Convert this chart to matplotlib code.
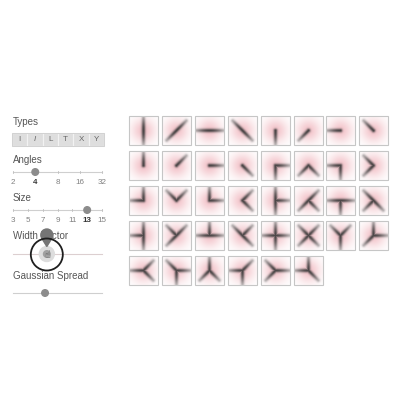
import numpy as np
import matplotlib
matplotlib.use('Agg')
from matplotlib import pyplot as plt
from matplotlib.patches import Rectangle, Circle, Polygon

plt.rcParams['font.family'] = ['Liberation Sans', 'DejaVu Sans']

# --- controls panel ---
type_buttons = ['I', 'I', 'L', 'T', 'X', 'Y']
angle_ticks = ['2', '4', '8', '16', '32']
angle_value = '4'
size_ticks = ['3', '5', '7', '9', '11', '13', '15']
size_value = '13'
width_factor_pos = 0.38     # slider position, 0..1
gaussian_spread_pos = 0.36  # slider position, 0..1

# --- kernel tiles: shape type and rotation (degrees) ---
tile_types = (['I'] * 4 + ['ray'] * 8 + ['L'] * 8 + ['T'] * 8
              + ['X'] * 2 + ['Y'] * 8)
tile_angles = ([270, 225, 180, 135]
               + [270, 225, 180, 135, 90, 45, 0, 315]
               + [270, 225, 180, 135, 90, 45, 0, 315]
               + [270, 225, 180, 135, 90, 45, 0, 315]
               + [270, 225]
               + [270, 225, 180, 135, 90, 45, 0, 315])
arm_offsets = {'I': [0, 180], 'ray': [0], 'L': [0, 90], 'T': [0, 90, 180],
               'X': [0, 90, 180, 270], 'Y': [0, 135, 225]}

n_cols = 8
res = 29
pink = np.array([232, 140, 152]) / 255.
dark = np.array([55, 55, 55]) / 255.


def kernel_image(kind, angle):
    xs = np.linspace(-1, 1, res)
    X, Y = np.meshgrid(xs, -xs)
    r2 = X ** 2 + Y ** 2
    bg = 0.5 * np.exp(-r2 / (2 * 0.58 ** 2))
    line = np.zeros_like(X)
    for off in arm_offsets[kind]:
        a = np.deg2rad(angle + off)
        dx, dy = np.cos(a), np.sin(a)
        t = np.clip(X * dx + Y * dy, 0, 1.0)
        d2 = (X - t * dx) ** 2 + (Y - t * dy) ** 2
        line = np.maximum(line, np.exp(-d2 / (2 * 0.1 ** 2)))
    line *= 0.88 * np.exp(-r2 / (2 * 0.72 ** 2))
    img = 1 - bg[..., None] * (1 - pink)
    img = img * (1 - line[..., None]) + dark * line[..., None]
    return img


fig = plt.figure(figsize=(4, 4), dpi=100)
ax = fig.add_axes([0, 0, 1, 1])

for i, (kind, ang) in enumerate(zip(tile_types, tile_angles)):
    col, row = i % n_cols, i // n_cols
    x0 = 129 + 32.9 * col
    y0 = 116 + 35 * row
    ax.imshow(kernel_image(kind, ang), extent=(x0, x0 + 29, y0 + 29, y0),
              interpolation='bilinear', zorder=1)
    ax.add_patch(Rectangle((x0, y0), 29, 29, fill=False, ec='#c6c6c6',
                           lw=0.8, zorder=2))

txt = '#555555'
track_x0, track_x1 = 13, 102


def slider(y, pos, track='#cfcfcf', n_ticks=0):
    ax.plot([track_x0, track_x1], [y, y], color=track, lw=0.8, zorder=3)
    if n_ticks:
        for tx in np.linspace(track_x0, track_x1, n_ticks):
            ax.plot([tx, tx], [y - 0.8, y + 0.8], color='#c0c0c0', lw=0.6,
                    zorder=3)
    ax.add_patch(Circle((track_x0 + pos * (track_x1 - track_x0), y), 3.3,
                        color='#8c8c8c', zorder=4))


def tick_labels(y, labels, selected):
    for tx, lab in zip(np.linspace(track_x0, track_x1, len(labels)), labels):
        bold = lab == selected
        ax.text(tx, y, lab, ha='center', va='center', fontsize=5.8,
                color='#333333' if bold else '#808080',
                fontweight='bold' if bold else 'normal')


# Types
ax.text(13, 122, 'Types', fontsize=7, color=txt, va='center')
bw = (104 - 12) / len(type_buttons)
for k, lab in enumerate(type_buttons):
    bx = 12 + k * bw
    ax.add_patch(Rectangle((bx, 133), bw, 13, fc='#dedede', ec='#f2f2f2',
                           lw=0.8, zorder=3))
    ax.text(bx + bw / 2, 139.5, lab, ha='center', va='center', fontsize=5.8,
            color='#666666', style='italic' if k == 1 else 'normal',
            zorder=4)
ax.add_patch(Rectangle((12, 133), 92, 13, fill=False, ec='#cccccc', lw=0.6,
                       zorder=4))

# Angles
ax.text(13, 160, 'Angles', fontsize=7, color=txt, va='center')
slider(172, angle_ticks.index(angle_value) / (len(angle_ticks) - 1),
       n_ticks=len(angle_ticks))
tick_labels(183, angle_ticks, angle_value)

# Size
ax.text(13, 198, 'Size', fontsize=7, color=txt, va='center')
slider(210, size_ticks.index(size_value) / (len(size_ticks) - 1),
       n_ticks=len(size_ticks))
tick_labels(221, size_ticks, size_value)

# Width Factor (with cursor overlay)
ax.text(13, 236, 'Width Factor', fontsize=7, color=txt, va='center')
wx = track_x0 + width_factor_pos * (track_x1 - track_x0)
ax.plot([track_x0, track_x1], [254, 254], color='#dccfd0', lw=0.8, zorder=3)
ax.add_patch(Circle((wx, 254), 7.5, color='#dddddd', zorder=4))
ax.add_patch(Circle((wx, 254), 3.3, color='#a0a0a0', zorder=5))
ax.add_patch(Circle((wx, 235), 6, color='#757575', zorder=6))
ax.add_patch(Polygon([(wx - 5.2, 238), (wx + 5.2, 238), (wx, 246.5)],
                     color='#757575', zorder=6))
ax.add_patch(Circle((wx, 254.5), 16, fill=False, ec='#1e1e1e', lw=1.3,
                    zorder=7))
ax.text(wx + 0.5, 254.5, '\u261d', ha='center', va='center', fontsize=7,
        color='#555555', family='DejaVu Sans', zorder=8)

# Gaussian Spread
ax.text(13, 276, 'Gaussian Spread', fontsize=7, color=txt, va='center')
slider(293, gaussian_spread_pos)

ax.set_xlim(0, 400)
ax.set_ylim(400, 0)
ax.set_aspect('auto')
ax.axis('off')
fig.savefig('out.png', dpi=100, facecolor='white')
